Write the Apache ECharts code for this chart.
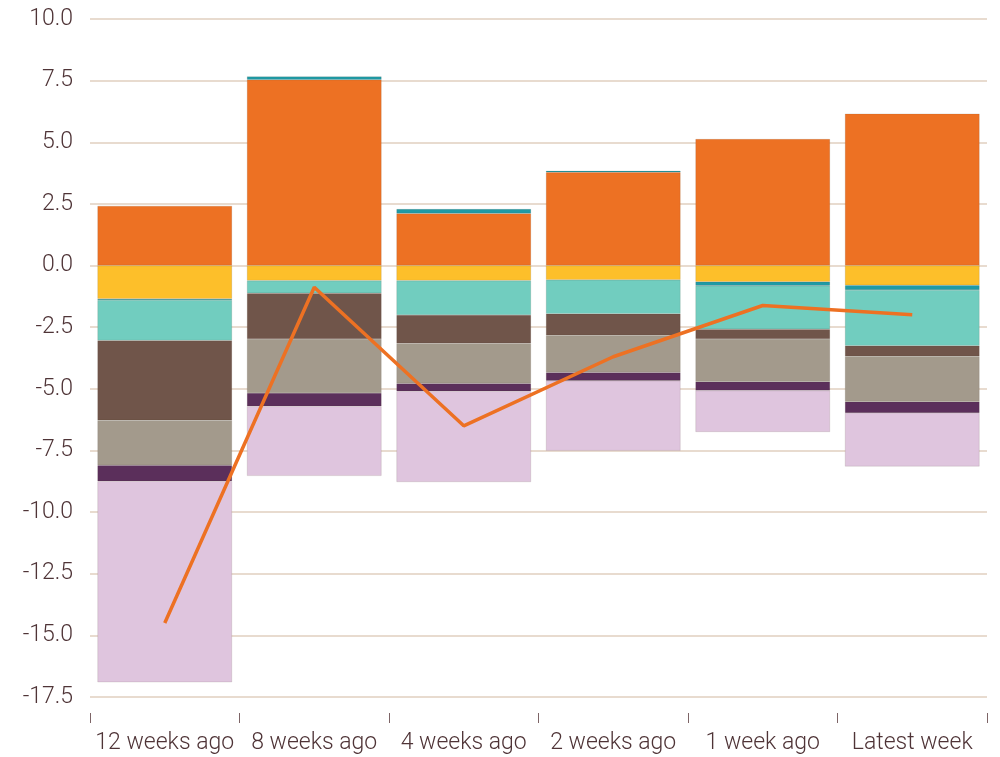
<!DOCTYPE html>
<html>
<head>
<meta charset="utf-8">
<script src="https://cdn.jsdelivr.net/npm/echarts@6/dist/echarts.min.js"></script>
<style>
  html, body { margin: 0; padding: 0; background: #fff; }
  #chart { width: 1000px; height: 757px; }
</style>
</head>
<body>
<div id="chart"></div>
<script>
// categories and values
var categories = ['12 weeks ago', '8 weeks ago', '4 weeks ago', '2 weeks ago', '1 week ago', 'Latest week'];
var orangeVals = [2.42, 7.54, 2.11, 3.78, 5.13, 6.16];
var yellowVals = [-1.35, -0.61, -0.61, -0.58, -0.66, -0.80];
var darkTealVals = [-0.05, 0.13, 0.18, 0.06, -0.16, -0.19];
var turquoiseVals = [-1.64, -0.51, -1.40, -1.38, -1.76, -2.26];
var brownVals = [-3.23, -1.86, -1.14, -0.87, -0.40, -0.43];
var taupeVals = [-1.83, -2.19, -1.63, -1.51, -1.73, -1.84];
var purpleVals = [-0.65, -0.54, -0.32, -0.33, -0.36, -0.46];
var lilacVals = [-8.15, -2.82, -3.68, -2.84, -1.68, -2.17];
var totalLine = [-14.5, -0.88, -6.5, -3.7, -1.62, -2.0];

var textColor = '#4f3437';
var font = 'Roboto, "Liberation Sans", sans-serif';

var myChart = echarts.init(document.getElementById('chart'));

function bar(name, data, color) {
  return {
    name: name,
    type: 'bar',
    stack: 'total',
    barCategoryGap: '10%',
    data: data,
    itemStyle: {
      color: color,
      borderColor: 'rgba(80,60,50,0.25)',
      borderWidth: 0.5
    },
    emphasis: { disabled: true }
  };
}

var option = {
  animation: false,
  grid: { left: 90, right: 13, top: 19, bottom: 60 },
  xAxis: {
    type: 'category',
    data: categories,
    offset: 16,
    axisLine: { show: false, onZero: false },
    axisTick: { show: true, length: 10, lineStyle: { color: '#7d6466', width: 1 } },
    axisLabel: { color: textColor, fontSize: 23, fontFamily: font, fontWeight: 300, margin: 19, interval: 0 },
    splitLine: { show: false }
  },
  yAxis: {
    type: 'value',
    min: -17.5,
    max: 10,
    interval: 2.5,
    axisLine: { show: false },
    axisTick: { show: false },
    axisLabel: {
      color: textColor, fontSize: 23, fontFamily: font, fontWeight: 300, margin: 17,
      formatter: function (v) { return v.toFixed(1); }
    },
    splitLine: { lineStyle: { color: '#e0cfbf', width: 1.5 } }
  },
  series: [
    bar('Orange', orangeVals, '#ed7123'),
    bar('Yellow', yellowVals, '#fdbf2a'),
    bar('Dark teal', darkTealVals, '#1f9aa5'),
    bar('Turquoise', turquoiseVals, '#71cdbf'),
    bar('Brown', brownVals, '#70554a'),
    bar('Taupe', taupeVals, '#a39a8c'),
    bar('Purple', purpleVals, '#5b2f5b'),
    bar('Lilac', lilacVals, '#dfc5de'),
    {
      name: 'Total',
      type: 'line',
      data: totalLine,
      symbol: 'none',
      z: 5,
      lineStyle: { color: '#ed7123', width: 3.5 },
      itemStyle: { color: '#ed7123' }
    }
  ]
};

myChart.setOption(option);
window.onresize = myChart.resize;
</script>
</body>
</html>
